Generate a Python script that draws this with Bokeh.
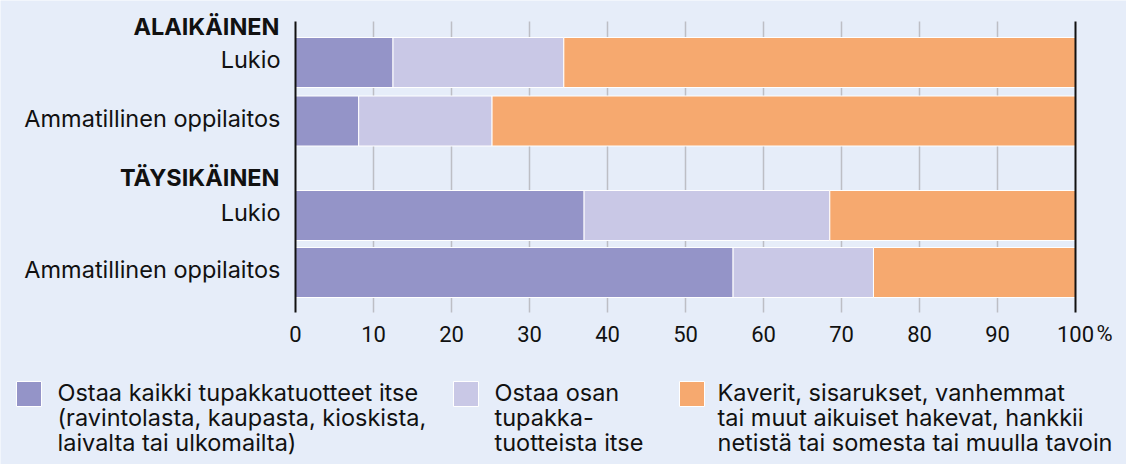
from bokeh.plotting import figure
from bokeh.models import ColumnDataSource, Range1d
from bokeh.embed import file_html
from bokeh.resources import INLINE
from bokeh.core.properties import value

# ---- data ----
groups = ["ALAIKÄINEN", "TÄYSIKÄINEN"]
rows = ["Lukio", "Ammatillinen oppilaitos", "Lukio", "Ammatillinen oppilaitos"]
buy_all = [12.5, 8.1, 37.0, 56.1]
buy_some = [21.9, 17.1, 31.5, 18.0]
others = [65.6, 74.8, 31.5, 25.9]
x_ticks = [0, 10, 20, 30, 40, 50, 60, 70, 80, 90, 100]
x_tick_labels = ["0", "10", "20", "30", "40", "50", "60", "70", "80", "90", "100"]
legend_lines = [
    ["Ostaa kaikki tupakkatuotteet itse", "(ravintolasta, kaupasta, kioskista,", "laivalta tai ulkomailta)"],
    ["Ostaa osan", "tupakka-", "tuotteista itse"],
    ["Kaverit, sisarukset, vanhemmat", "tai muut aikuiset hakevat, hankkii", "netistä tai somesta tai muulla tavoin"],
]

# ---- style / layout ----
BG = "#E6EDF9"
COLORS = ["#9494C8", "#C9C8E6", "#F6A96F"]
INK = "#111111"
FONT = "Inter"
FS = "23.5px"
W, H = 1126, 464
FRAME_L, FRAME_R = 295, 1075          # canvas px of 0 % and 100 %
TOP = 21                              # canvas px of top of grid lines
PX_PER = (FRAME_R - FRAME_L) / 100.0
row_pos = [41, 99.5, 194, 251]
group_pos = [5, 156]
bar_h = 50
grid_top, grid_bot = 0, 291
tick_label_y = 312
sq_x = [28.5, 465.5, 691.5]
sq_y = 372.5
txt_x = [57, 494, 717]
line_y = [371, 396, 421]

src = ColumnDataSource(dict(y=row_pos, buy_all=buy_all, buy_some=buy_some, others=others))

p = figure(width=W, height=H,
           x_range=Range1d(-FRAME_L / PX_PER, 100 + (W - FRAME_R) / PX_PER),
           y_range=Range1d(H - TOP, -TOP),
           output_backend="svg", toolbar_location=None, min_border=0,
           background_fill_color=BG, border_fill_color=BG, outline_line_color=None)
p.extra_x_ranges = {"px": Range1d(0, W)}
p.axis.visible = False
p.grid.visible = False

# grid lines (behind bars)
inner = x_ticks[1:-1]
p.segment(x0=inner, y0=[grid_top] * len(inner), x1=inner, y1=[grid_bot] * len(inner),
          line_color="#BDBEC5", line_width=1.5)

p.hbar_stack(["buy_all", "buy_some", "others"], y="y", height=bar_h, color=COLORS,
             line_color="white", line_width=1, source=src)

# 0 and 100 lines
ends = [x_ticks[0], x_ticks[-1]]
p.segment(x0=ends, y0=[grid_top] * 2, x1=ends, y1=[grid_bot] * 2,
          line_color=INK, line_width=2)

# x tick labels
p.text(x=x_ticks, y=[tick_label_y] * len(x_ticks), text=x_tick_labels,
       text_align="center", text_baseline="middle",
       text_font=value("Roboto"), text_font_size="22px", text_color=INK)
p.text(x=[x_ticks[-1]], y=[tick_label_y], text=["%"], x_offset=21,
       text_align="left", text_baseline="middle",
       text_font=value("Roboto"), text_font_size="22px", text_color=INK)

# row labels
p.text(x=[0] * len(rows), y=row_pos, text=rows, x_offset=-15, y_offset=-3,
       text_align="right", text_baseline="middle",
       text_font=value(FONT), text_font_size=FS, text_color=INK)
# group headers
p.text(x=[0] * len(groups), y=group_pos, text=groups, x_offset=-16,
       text_align="right", text_baseline="middle",
       text_font=value(FONT), text_font_size=FS, text_font_style="bold", text_color=INK)

# legend
p.rect(x=sq_x, y=[sq_y] * 3, width=25, height=25, fill_color=COLORS,
       line_color="white", line_width=1, x_range_name="px")
tx, ty, tt = [], [], []
for i, lines in enumerate(legend_lines):
    for j, ln in enumerate(lines):
        tx.append(txt_x[i]); ty.append(line_y[j]); tt.append(ln)
p.text(x=tx, y=ty, text=tt, text_align="left", text_baseline="middle",
       text_font=value(FONT), text_font_size=FS, text_color=INK, x_range_name="px")

html = file_html(p, INLINE)
html = html.replace("<body>", '<body style="margin:0;background-color:%s;">' % BG, 1)
open("out.html", "w").write(html)
